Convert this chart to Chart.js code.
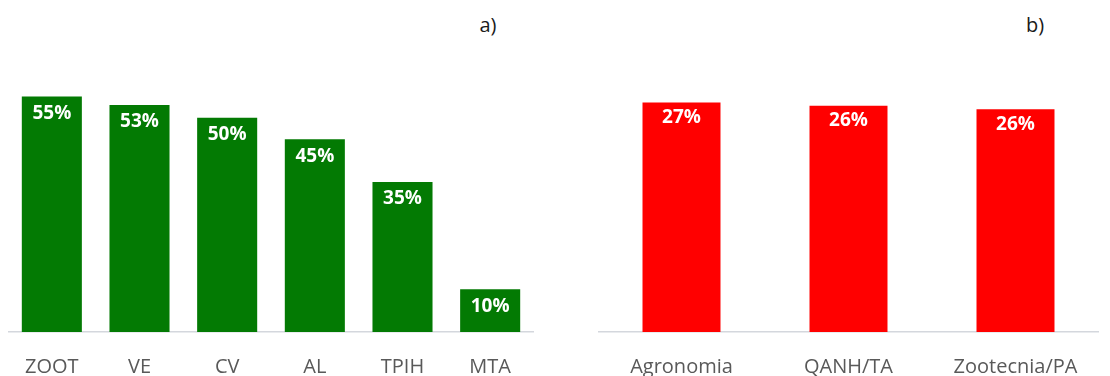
<!DOCTYPE html>
<html>
<head>
<meta charset="utf-8">
<script src="https://cdn.jsdelivr.net/npm/chart.js@4/dist/chart.umd.min.js"></script>
<style>
  html, body { margin: 0; padding: 0; background: #fff; }
  body { width: 1110px; height: 376px; position: relative; overflow: hidden; font-family: "Open Sans", sans-serif; }
  .box { position: absolute; top: 0; height: 376px; }
  .tag { position: absolute; top: 10px; font-size: 20px; color: #1a1a1a; width: 40px; text-align: center; line-height: 30px; }
</style>
</head>
<body>
<div class="tag" style="left:468px">a)</div>
<div class="tag" style="left:1015px">b)</div>
<div class="box" style="left:8px; width:526px"><canvas id="left"></canvas></div>
<div class="box" style="left:598px; width:501px"><canvas id="right"></canvas></div>
<script>
// a) programmes
const leftCategories = ['ZOOT', 'VE', 'CV', 'AL', 'TPIH', 'MTA'];
const leftValues = [55, 53, 50, 45, 35, 10];
// b) programmes
const rightCategories = ['Agronomia', 'QANH/TA', 'Zootecnia/PA'];
const rightValues = [26.8, 26.4, 26.0];

// draws the % label inside the top of each bar
const barLabels = {
  id: 'barLabels',
  afterDatasetsDraw(chart, args, opts) {
    const ctx = chart.ctx;
    const meta = chart.getDatasetMeta(0);
    const data = chart.data.datasets[0].data;
    ctx.save();
    ctx.fillStyle = '#fff';
    ctx.font = 'bold 19px "Open Sans"';
    ctx.textAlign = 'center';
    ctx.textBaseline = 'middle';
    meta.data.forEach((bar, i) => {
      ctx.fillText(Math.round(data[i]) + '%', bar.x, bar.y + opts.offset);
    });
    ctx.restore();
  }
};

function makeChart(id, labels, values, color, yMax, barPct, offset) {
  const ctx = document.getElementById(id).getContext('2d');
  return new Chart(ctx, {
    type: 'bar',
    data: {
      labels: labels,
      datasets: [{ data: values, backgroundColor: color, barPercentage: barPct, categoryPercentage: 1 }]
    },
    options: {
      responsive: true,
      maintainAspectRatio: false,
      animation: false,
      layout: { padding: { top: 75, left: 0, right: 0, bottom: 0 } },
      plugins: {
        legend: { display: false },
        tooltip: { enabled: false },
        barLabels: { offset: offset }
      },
      scales: {
        x: {
          grid: { display: false },
          border: { display: true, color: '#d4d7dd', width: 1.5 },
          ticks: { color: '#595959', font: { family: 'Open Sans', size: 20 }, padding: 15, maxRotation: 0, autoSkip: false },
          afterFit(scale) { scale.height = 44; }
        },
        y: { display: false, min: 0, max: yMax }
      }
    },
    plugins: [barLabels]
  });
}

makeChart('left', leftCategories, leftValues, '#037a03', 60, 0.685, 17);
makeChart('right', rightCategories, rightValues, '#ff0000', 30, 0.467, 15);
</script>
</body>
</html>
